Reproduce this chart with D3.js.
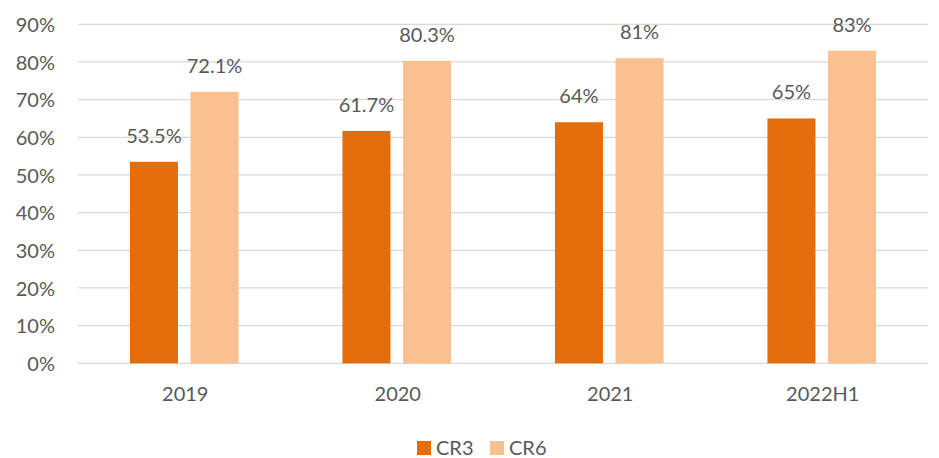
<!DOCTYPE html>
<html>
<head>
<meta charset="utf-8">
<script src="https://cdn.jsdelivr.net/npm/d3@7"></script>
<style>
  html, body { margin: 0; padding: 0; background: #ffffff; }
  svg { display: block; }
  text { font-family: Lato, "Open Sans", sans-serif; fill: #595959; }
</style>
</head>
<body>
<svg id="chart" width="939" height="458"></svg>
<script>
const categories = ["2019", "2020", "2021", "2022H1"];
const seriesNames = ["CR3", "CR6"];
const cr3Values = [53.5, 61.7, 64, 65];
const cr6Values = [72.1, 80.3, 81, 83];
const cr3Labels = ["53.5%", "61.7%", "64%", "65%"];
const cr6Labels = ["72.1%", "80.3%", "81%", "83%"];
const yTicks = [0, 10, 20, 30, 40, 50, 60, 70, 80, 90];
const colors = ["#E46C0A", "#FAC090"];

const svg = d3.select("#chart");
const plot = { left: 78, right: 928, top: 24.3, bottom: 363.3 };

const x = d3.scaleBand().domain(categories).range([plot.left, plot.right]).paddingInner(0).paddingOuter(0);
const y = d3.scaleLinear().domain([0, 90]).range([plot.bottom, plot.top]);
const barW = 48, gap = 12.6;

// gridlines
svg.append("g").selectAll("line").data(yTicks).join("line")
  .attr("x1", plot.left).attr("x2", plot.right)
  .attr("y1", d => y(d)).attr("y2", d => y(d))
  .attr("stroke", "#d9d9d9").attr("stroke-width", 1.3);

// y axis labels
const yAxis = d3.axisLeft(y).tickValues(yTicks).tickFormat(d => d + "%").tickSize(0).tickPadding(0);
const yg = svg.append("g").attr("transform", `translate(55,0)`).call(yAxis);
yg.select(".domain").remove();
yg.selectAll("text").attr("font-size", 20).attr("dy", "0.36em").style("font-family", "Lato, sans-serif").attr("fill", "#595959");

// x axis labels
const xAxis = d3.axisBottom(x).tickSize(0).tickPadding(0);
const xg = svg.append("g").attr("transform", `translate(1,${plot.bottom})`).call(xAxis);
xg.select(".domain").remove();
xg.selectAll("text").attr("font-size", 20).attr("y", 37.5).attr("dy", 0).style("font-family", "Lato, sans-serif").attr("fill", "#595959");

const series = [
  { name: seriesNames[0], values: cr3Values, labels: cr3Labels, offset: -(gap / 2 + barW / 2), color: colors[0] },
  { name: seriesNames[1], values: cr6Values, labels: cr6Labels, offset: (gap / 2 + barW / 2), color: colors[1] }
];

series.forEach(s => {
  const g = svg.append("g");
  const cx = (c) => x(c) + x.bandwidth() / 2 + s.offset;
  g.selectAll("rect").data(categories).join("rect")
    .attr("x", c => cx(c) - barW / 2)
    .attr("width", barW)
    .attr("y", (c, i) => y(s.values[i]))
    .attr("height", (c, i) => y(0) - y(s.values[i]))
    .attr("fill", s.color);
  g.selectAll("text").data(categories).join("text")
    .attr("x", c => cx(c))
    .attr("y", (c, i) => y(s.values[i]) - 19)
    .attr("text-anchor", "middle")
    .attr("font-size", 20)
    .text((c, i) => s.labels[i]);
});

// legend
const legend = svg.append("g");
const legendItems = [
  { name: seriesNames[0], color: colors[0], x: 417 },
  { name: seriesNames[1], color: colors[1], x: 490 }
];
legendItems.forEach(it => {
  legend.append("rect").attr("x", it.x).attr("y", 441).attr("width", 14).attr("height", 14).attr("fill", it.color);
  legend.append("text").attr("x", it.x + 19).attr("y", 454.6).attr("font-size", 20).text(it.name);
});
</script>
</body>
</html>
